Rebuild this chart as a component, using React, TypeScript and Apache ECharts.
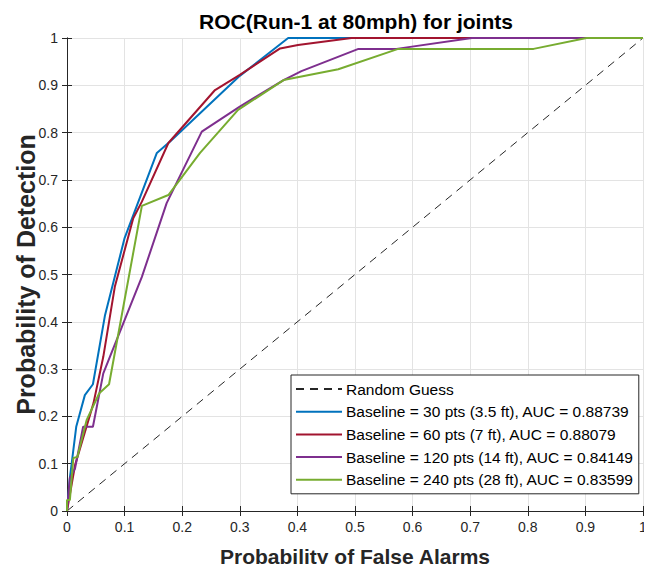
import React, { useEffect, useRef } from "react";
import * as echarts from "echarts";

const seriesNames = [
  "Random Guess",
  "Baseline = 30 pts (3.5 ft), AUC = 0.88739",
  "Baseline = 60 pts (7 ft), AUC = 0.88079",
  "Baseline = 120 pts (14 ft), AUC = 0.84149",
  "Baseline = 240 pts (28 ft), AUC = 0.83599",
];
const colors = ["#262626", "#0072BD", "#A2142F", "#7E2F8E", "#77AC30"];

const randomGuess: number[][] = [[0, 0], [1, 1]];
const run30: number[][] = [
  [0, 0], [0.005, 0.07], [0.016, 0.178], [0.031, 0.245], [0.045, 0.268],
  [0.066, 0.414], [0.1, 0.577], [0.156, 0.757], [0.179, 0.781], [0.3, 0.92],
  [0.384, 1.0], [1, 1],
];
const run60: number[][] = [
  [0, 0], [0.014, 0.097], [0.046, 0.228], [0.063, 0.326], [0.083, 0.474],
  [0.115, 0.619], [0.13, 0.654], [0.176, 0.778], [0.257, 0.89], [0.3, 0.922],
  [0.37, 0.978], [0.401, 0.985], [0.494, 1.0], [1, 1],
];
const run120: number[][] = [
  [0, 0], [0.005, 0.07], [0.014, 0.09], [0.028, 0.178], [0.045, 0.178],
  [0.063, 0.291], [0.13, 0.495], [0.173, 0.651], [0.234, 0.802], [0.3, 0.855],
  [0.376, 0.911], [0.407, 0.93], [0.506, 0.977], [0.572, 0.977], [0.703, 1.0],
  [1, 1],
];
const run240: number[][] = [
  [0, 0], [0, 0.023], [0.005, 0.023], [0.011, 0.112], [0.018, 0.114],
  [0.034, 0.192], [0.056, 0.249], [0.073, 0.268], [0.13, 0.645], [0.176, 0.668],
  [0.231, 0.757], [0.297, 0.848], [0.376, 0.911], [0.471, 0.934], [0.575, 0.977],
  [0.81, 0.977], [0.902, 1.0], [1, 1],
];
const seriesData = [randomGuess, run30, run60, run120, run240];

const FONT = "'Liberation Sans', Arial, sans-serif";

export default function App() {
  const ref = useRef<HTMLDivElement>(null);
  useEffect(() => {
    if (!ref.current) return;
    const chart = echarts.init(ref.current, undefined, { renderer: "svg" });
    const axisCommon = {
      type: "value" as const,
      min: 0,
      max: 1,
      interval: 0.1,
      axisLine: { show: true, lineStyle: { color: "#262626", width: 1 } },
      axisTick: { show: true, inside: true, length: 5, lineStyle: { color: "#262626" } },
    };
    const fmt = (v: number) => String(Math.round(v * 10) / 10);
    chart.setOption({
      animation: false,
      backgroundColor: "#ffffff",
      title: {
        text: "ROC(Run-1 at 80mph) for joints",
        left: 351,
        textAlign: "center",
        top: 6,
        textStyle: { fontFamily: FONT, fontSize: 21, fontWeight: "bold", color: "#000" },
      },
      grid: { left: 67, right: 9, top: 38, bottom: 61, outerBoundsMode: "none", containLabel: false },
      legend: {
        orient: "vertical",
        left: 291,
        top: 375,
        padding: [6, 5, 6, 4],
        itemGap: 6.7,
        itemWidth: 46,
        itemHeight: 14,
        backgroundColor: "#ffffff",
        borderColor: "#262626",
        borderWidth: 1,
        borderRadius: 0,
        data: seriesNames,
        itemStyle: { opacity: 0 },
        textStyle: { fontFamily: FONT, fontSize: 15.5, color: "#000", padding: [0, 0, 0, -1] },
      },
      xAxis: [
        {
          ...axisCommon,
          position: "bottom",
          name: "Probability of False Alarms",
          nameLocation: "middle",
          nameGap: 35,
          nameMoveOverlap: false,
          nameTextStyle: { fontFamily: FONT, fontSize: 21, fontWeight: "bold", color: "#262626" },
          axisLabel: { fontFamily: FONT, fontSize: 14, color: "#262626", margin: 9, formatter: fmt },
          splitLine: { show: true, lineStyle: { color: "#e3e3e3", width: 1 } },
        },
        {
          ...axisCommon,
          position: "top",
          axisLabel: { show: false },
          splitLine: { show: false },
        },
      ],
      yAxis: [
        {
          ...axisCommon,
          position: "left",
          name: "Probability of Detection",
          nameLocation: "middle",
          nameGap: 29,
          nameMoveOverlap: false,
          nameTextStyle: { fontFamily: FONT, fontSize: 25, fontWeight: "bold", color: "#262626" },
          axisLabel: { fontFamily: FONT, fontSize: 14, color: "#262626", margin: 9, formatter: fmt },
          splitLine: { show: true, lineStyle: { color: "#e3e3e3", width: 1 } },
        },
        {
          ...axisCommon,
          position: "right",
          axisLabel: { show: false },
          splitLine: { show: false },
        },
      ],
      series: seriesData.map((d, i) => ({
        name: seriesNames[i],
        type: "line",
        data: d,
        symbol: "none",
        xAxisIndex: 0,
        yAxisIndex: 0,
        color: colors[i],
        lineStyle: {
          color: colors[i],
          width: i === 0 ? 1 : 2,
          type: i === 0 ? [8, 6] : "solid",
        },
      })),
    });
    return () => chart.dispose();
  }, []);
  return <div ref={ref} style={{ width: 652, height: 572, margin: -8 }} />;
}
